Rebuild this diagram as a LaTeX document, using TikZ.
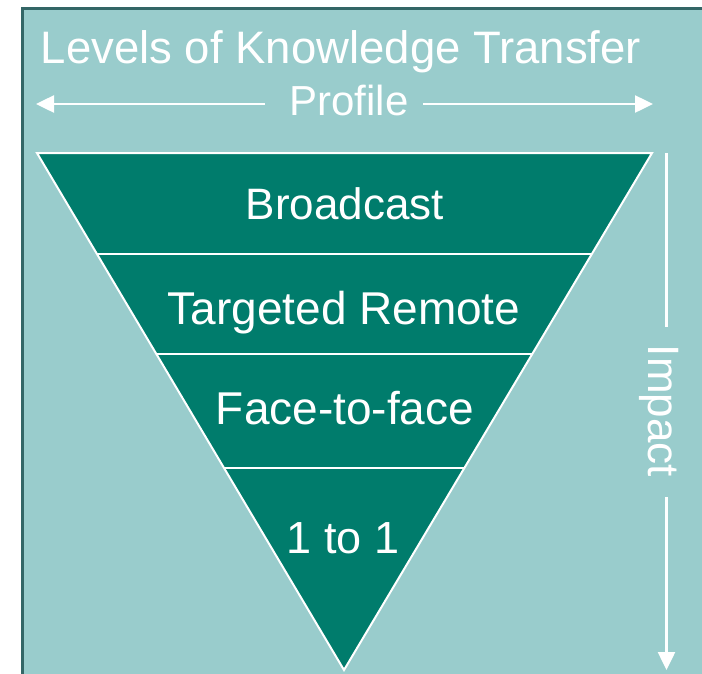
\documentclass[tikz,border=0pt]{standalone}
\usepackage{fontspec}
\setmainfont{Liberation Sans}
\usetikzlibrary{arrows.meta,calc}
\definecolor{panel}{HTML}{99CCCC}
\definecolor{frame}{HTML}{336666}
\definecolor{tri}{HTML}{007C6C}
\begin{document}
\begin{tikzpicture}[x=1pt,y=-1pt,
  lbl/.style={text=white,font=\fontsize{46}{52}\selectfont,inner sep=0pt,anchor=base},
  arr/.style={draw=white,line width=2.5pt,-{Triangle[length=18pt,width=17pt]}},
  seg/.style={draw=white,line width=2.5pt},
  sep/.style={draw=white,line width=2pt},
  tribox/.style={fill=tri,draw=white,line width=2pt,line join=miter}]
\useasboundingbox (0,0) rectangle (702,673);
\fill[white] (0,0) rectangle (702,673);
\fill[panel] (22,8) rectangle (712,690);
\draw[frame,line width=3pt] (22.5,690) -- (22.5,8.5) -- (712,8.5);
% triangle
\coordinate (A) at (37,153);
\coordinate (B) at (652,153);
\coordinate (C) at (344,670);
\draw[tribox] (A) -- (B) -- (C) -- cycle;
\coordinate (s1l) at ($(A)!0.1954!(C)$);
\coordinate (s1r) at ($(B)!0.1954!(C)$);
\coordinate (s2l) at ($(A)!0.3888!(C)$);
\coordinate (s2r) at ($(B)!0.3888!(C)$);
\coordinate (s3l) at ($(A)!0.6093!(C)$);
\coordinate (s3r) at ($(B)!0.6093!(C)$);
\draw[sep] (s1l) -- (s1r);
\draw[sep] (s2l) -- (s2r);
\draw[sep] (s3l) -- (s3r);
% texts
\node[lbl,font=\fontsize{45.5}{52}\selectfont] (title) at (341,63) {Levels of Knowledge Transfer};
\node[lbl,font=\fontsize{42}{48}\selectfont] (prof) at (349,115) {Profile};
\node[lbl,font=\fontsize{44}{50}\selectfont] (b1) at (345,219) {Broadcast};
\node[lbl] (b2) at (344,324) {Targeted Remote};
\node[lbl] (b3) at (345,424) {Face-to-face};
\node[lbl,font=\fontsize{45}{50}\selectfont] (b4) at (343,553) {1 to 1};
\node[lbl,font=\fontsize{44}{50}\selectfont,rotate=-90] (imp) at (648,411) {Impact};
% profile arrows
\coordinate (pL) at (265,104);
\coordinate (tL) at (36,104);
\coordinate (pR) at (423,104);
\coordinate (tR) at (653,104);
\draw[arr] (pL) -- (tL);
\draw[arr] (pR) -- (tR);
% impact arrow
\coordinate (iT) at (666.5,153);
\coordinate (iA) at (666.5,327);
\coordinate (iB) at (666.5,497);
\coordinate (iE) at (666.5,670);
\draw[seg] (iT) -- (iA);
\draw[arr] (iB) -- (iE);
\end{tikzpicture}
\end{document}
